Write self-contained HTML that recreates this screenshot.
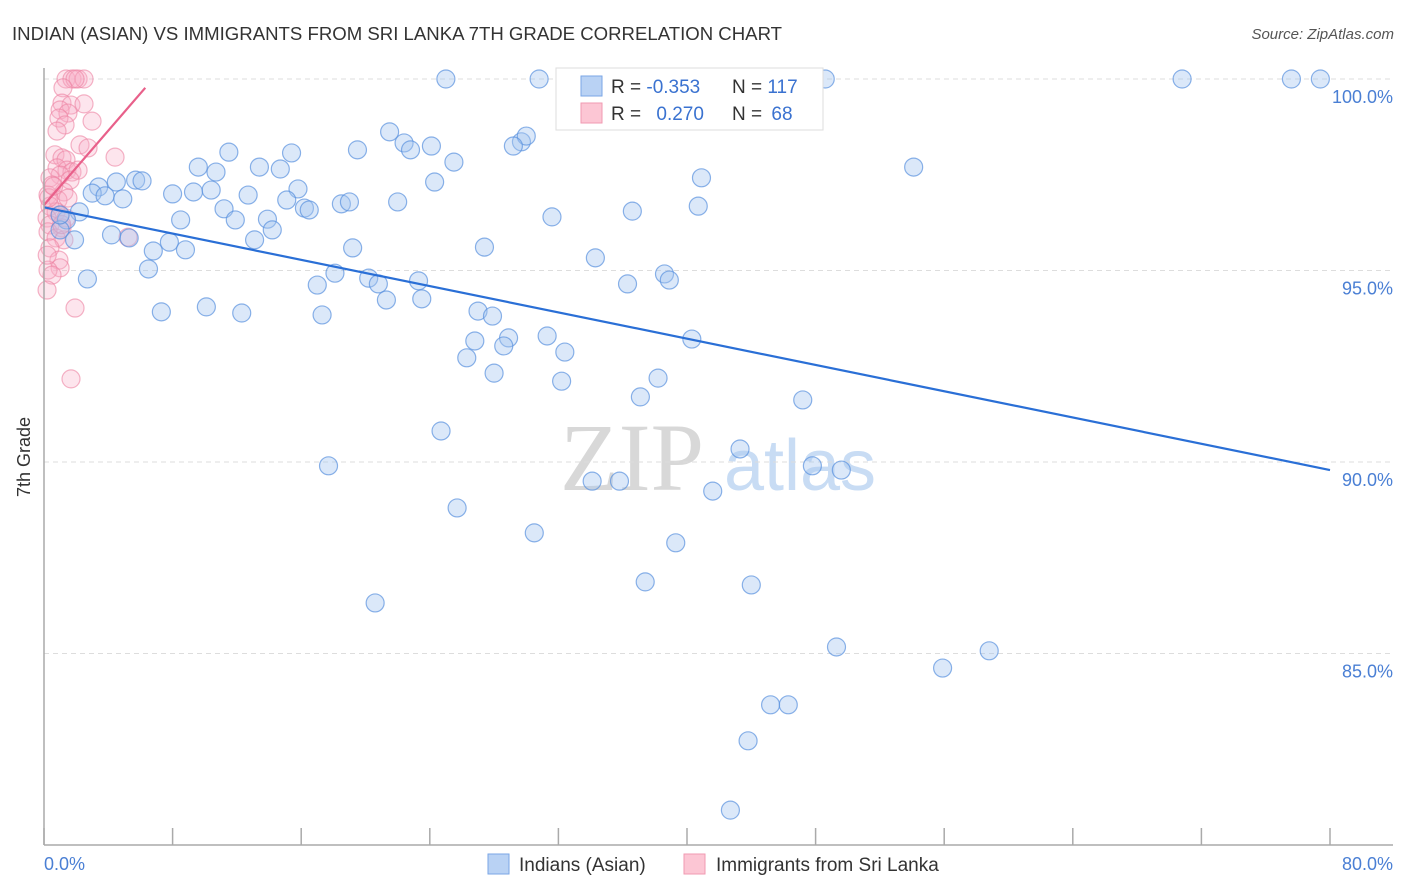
<!DOCTYPE html>
<html><head><meta charset="utf-8"><style>
body{margin:0;background:#fff;font-family:"Liberation Sans",sans-serif}
svg{display:block}
</style></head><body>
<svg id="c" width="1406" height="892">
<text x="12" y="40" font-size="18.6" fill="#333">INDIAN (ASIAN) VS IMMIGRANTS FROM SRI LANKA 7TH GRADE CORRELATION CHART</text>
<text x="1394" y="39" font-size="15" fill="#555" font-style="italic" text-anchor="end">Source: ZipAtlas.com</text>
<g>
<text x="632" y="490" font-size="96" font-family="Liberation Serif" fill="#d8d8d8" text-anchor="middle">ZIP</text>
<text x="800" y="490" font-size="72" fill="#c8dcf4" text-anchor="middle">atlas</text>
</g>
<g id="grid"></g>
<g id="pts"></g>
<g id="lines"></g>
<line x1="44" y1="68" x2="44" y2="845" stroke="#aaa" stroke-width="1.5"/>
<line x1="44" y1="845" x2="1393" y2="845" stroke="#aaa" stroke-width="1.5"/>
<text x="30" y="457" font-size="18" fill="#333" text-anchor="middle" transform="rotate(-90 30 457)">7th Grade</text>
<text x="44" y="870" font-size="18" fill="#4a7fd4">0.0%</text>
<text x="1393" y="870" font-size="18" fill="#4a7fd4" text-anchor="end">80.0%</text>
<g>
<rect x="556" y="68" width="267" height="62" fill="#fff" stroke="#ddd"/>
<rect x="581" y="76" width="21" height="20" fill="#b9d2f4" stroke="#7aa6e6"/>
<rect x="581" y="103" width="21" height="20" fill="#fcc6d4" stroke="#f09ab2"/>
<text x="611" y="93" font-size="19" fill="#333">R = <tspan fill="#3a72d0">-0.353</tspan></text>
<text x="732" y="93" font-size="19" fill="#333">N = <tspan fill="#3a72d0">117</tspan></text>
<text x="611" y="120" font-size="19" fill="#333">R = <tspan fill="#3a72d0" dx="10">0.270</tspan></text>
<text x="732" y="120" font-size="19" fill="#333">N = <tspan fill="#3a72d0" dx="4">68</tspan></text>
</g>
<g>
<rect x="488" y="854" width="21" height="20" fill="#b9d2f4" stroke="#7aa6e6"/>
<text x="519" y="871" font-size="19" fill="#333">Indians (Asian)</text>
<rect x="684" y="854" width="21" height="20" fill="#fcc6d4" stroke="#f09ab2"/>
<text x="716" y="871" font-size="19" fill="#333">Immigrants from Sri Lanka</text>
</g>
</svg>
<script>
const yTicks=[100,95,90,85];
const yTickLabels=["100.0%","95.0%","90.0%","85.0%"];
const xTicks=[0,8,16,24,32,40,48,56,64,72,80];
const blueX=[25.0,30.8,48.6,70.8,77.6,79.4,21.5,22.4,24.1,22.8,19.5,29.7,30.0,29.2,11.5,15.4,9.6,10.7,13.4,14.7,25.5,54.1,4.5,5.7,6.1,3.4,3.0,3.8,4.9,8.0,9.3,10.4,12.7,15.8,24.3,40.9,15.1,16.2,16.5,18.5,19.0,22.0,11.2,11.9,8.5,13.9,14.2,13.1,31.6,36.6,40.7,2.2,1.4,1.0,4.2,5.3,7.8,6.8,8.8,1.9,1.0,19.2,27.4,6.5,2.7,18.1,20.2,20.8,23.3,17.0,21.3,23.5,34.3,36.3,38.6,38.9,7.3,10.1,12.3,17.3,27.0,27.9,26.8,28.9,28.6,26.3,28.0,31.3,32.4,32.2,40.3,38.2,37.1,47.2,24.7,17.7,43.3,34.1,35.8,41.6,47.8,49.6,25.7,30.5,39.3,37.4,44.0,20.6,49.3,58.8,55.9,45.2,46.3,43.8,42.7];
const blueY=[100,100,100,100,100,100,98.62,98.33,98.25,98.15,98.15,98.36,98.51,98.25,98.09,98.07,97.70,97.57,97.70,97.65,97.83,97.70,97.31,97.36,97.34,97.18,97.02,96.95,96.87,97.0,97.05,97.10,96.97,97.13,97.31,97.42,96.84,96.63,96.58,96.74,96.79,96.79,96.61,96.32,96.32,96.34,96.06,95.80,96.40,96.55,96.68,96.53,96.32,96.06,95.93,95.85,95.74,95.51,95.54,95.80,96.45,95.59,95.61,95.04,94.78,94.93,94.80,94.65,94.73,94.62,94.23,94.26,95.33,94.65,94.91,94.75,93.92,94.05,93.89,93.84,93.94,93.81,93.16,93.24,93.03,92.72,92.32,93.29,92.87,92.11,93.21,92.19,91.70,91.62,90.81,89.90,90.34,89.50,89.50,89.24,89.90,89.79,88.80,88.15,87.89,86.87,86.79,86.32,85.17,85.07,84.62,83.66,83.66,82.72,80.91];
const pinkX=[1.37,1.74,2.12,2.49,1.93,1.18,1.12,1.68,2.49,1.0,1.49,0.93,1.31,0.81,2.99,2.24,2.74,4.42,0.68,1.12,1.37,0.81,1.43,1.74,2.12,1.0,0.37,1.62,0.5,1.24,0.25,0.87,1.49,0.37,0.75,0.19,1.0,1.37,0.37,1.12,0.25,0.75,1.24,5.23,0.37,0.93,1.0,0.25,0.5,0.19,1.93,1.68,0.3,0.6,0.2,1.1];
const pinkY=[100,100,100,100,100,99.77,99.37,99.32,99.35,99.19,99.11,98.98,98.80,98.64,98.90,98.28,98.20,97.96,98.02,97.94,97.89,97.68,97.62,97.57,97.62,97.49,97.42,97.36,97.23,97.05,96.97,96.84,96.89,96.68,96.53,96.37,96.45,96.37,96.19,96.11,96.01,95.85,95.80,95.87,95.59,95.27,95.07,95.01,94.88,94.49,94.02,92.17,96.9,97.2,95.4,96.2];
const blueLine=[0,96.65,80,89.79];
const pinkLine=[0,96.71,6.3,99.77];
const NS="http://www.w3.org/2000/svg";
const sx=v=>44+v*16.075, sy=v=>79+(100-v)*38.3;
function mk(t,a,p){const e=document.createElementNS(NS,t);for(const k in a)e.setAttribute(k,a[k]);p.appendChild(e);return e;}
const g=document.getElementById('grid');
yTicks.forEach((t,i)=>{
 const l=mk('line',{x1:44,x2:1393,y1:sy(t),y2:sy(t),stroke:'#ddd','stroke-dasharray':'5,4'},g);
 
 
 const tx=mk('text',{x:1393,y:sy(t)+24,'font-size':18,fill:'#4a7fd4','text-anchor':'end'},g);
 tx.textContent=yTickLabels[i];
 
 
});
xTicks.forEach(t=>{
 const l=mk('line',{x1:sx(t),x2:sx(t),y1:828,y2:845,stroke:'#aaa','stroke-width':1.5},g);
 
 
});
const p=document.getElementById('pts');
pinkX.forEach((x,i)=>{
 const c=mk('circle',{cx:sx(x),cy:sy(pinkY[i]),r:9,fill:'rgba(248,175,198,0.32)',stroke:'rgba(236,130,162,0.6)','stroke-width':1.2},p);
 
 
});
blueX.forEach((x,i)=>{
 const c=mk('circle',{cx:sx(x),cy:sy(blueY[i]),r:9,fill:'rgba(165,198,240,0.4)',stroke:'rgba(90,145,222,0.7)','stroke-width':1.2},p);
 
 
});
const L=document.getElementById('lines');
const bl=mk('line',{x1:sx(blueLine[0]),y1:sy(blueLine[1]),x2:sx(blueLine[2]),y2:sy(blueLine[3]),stroke:'#2a6fd6','stroke-width':2.2},L);


const pl=mk('line',{x1:sx(pinkLine[0]),y1:sy(pinkLine[1]),x2:sx(pinkLine[2]),y2:sy(pinkLine[3]),stroke:'#e8608a','stroke-width':2.2},L);


</script>
</body></html>
